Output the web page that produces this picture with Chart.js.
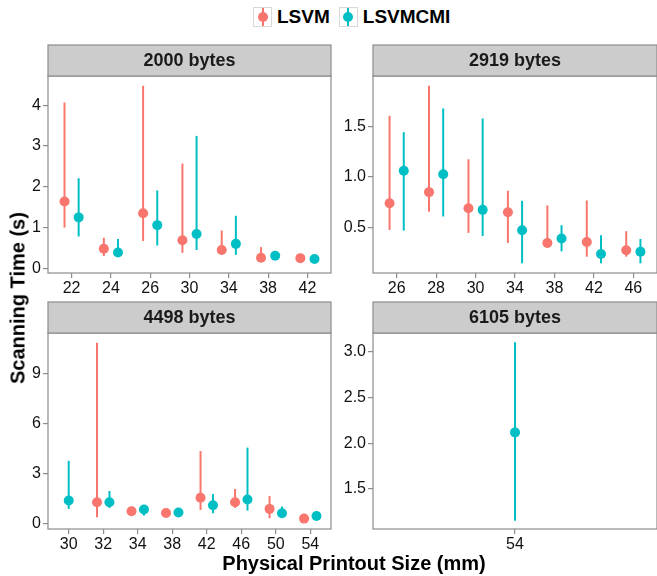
<!DOCTYPE html>
<html>
<head>
<meta charset="utf-8">
<script src="https://cdn.jsdelivr.net/npm/chart.js@4.4.0/dist/chart.umd.min.js"></script>
<style>
  body { margin: 0; width: 657px; height: 576px; position: relative; background: #fff; overflow: hidden;
         font-family: "Liberation Sans", Arial, Helvetica, sans-serif; color: #000; }
  canvas { position: absolute; }
  #legend { position: absolute; left: 253px; top: 7px; height: 20px; display: flex; align-items: center;
            font-weight: bold; font-size: 19px; }
  .key { position: relative; width: 19px; height: 20px; border: 1px solid #d9d9d9; box-sizing: border-box; margin-right: 5px; }
  .key .bar { position: absolute; left: 7.5px; top: 0; width: 2px; height: 100%; }
  .key .dot { position: absolute; left: 3.5px; top: 4px; width: 10px; height: 10px; border-radius: 50%; }
  .lbl { margin-right: 9px; }
  #ytitle { position: absolute; left: 18px; top: 298px; transform: translate(-50%, -50%) rotate(-90deg);
            white-space: nowrap; font-weight: bold; font-size: 20px; }
  #xtitle { position: absolute; left: 354px; top: 563px; transform: translate(-50%, -50%);
            white-space: nowrap; font-weight: bold; font-size: 20px; }
</style>
</head>
<body>
<div id="legend">
  <div class="key"><div class="bar" style="background:#F8766D"></div><div class="dot" style="background:#F8766D"></div></div>
  <span class="lbl">LSVM</span>
  <div class="key"><div class="bar" style="background:#00BFC4"></div><div class="dot" style="background:#00BFC4"></div></div>
  <span class="lbl">LSVMCMI</span>
</div>
<canvas id="p2000" width="336" height="256" style="left:0;top:44px"></canvas>
<canvas id="p2919" width="326" height="256" style="left:336px;top:44px"></canvas>
<canvas id="p4498" width="336" height="256" style="left:0;top:301px"></canvas>
<canvas id="p6105" width="326" height="256" style="left:336px;top:301px"></canvas>
<div id="ytitle">Scanning Time (s)</div>
<div id="xtitle">Physical Printout Size (mm)</div>
<script>
// --- data (seconds) ---
const SIZES_2000 = ['22', '24', '26', '30', '34', '38', '42'];
const LSVM_2000 = [1.64, 0.48, 1.35, 0.69, 0.45, 0.26, 0.25];
const LSVM_2000_LO = [1.00, 0.30, 0.67, 0.38, 0.35, 0.20, 0.21];
const LSVM_2000_HI = [4.07, 0.75, 4.48, 2.57, 0.93, 0.52, 0.30];
const LSVMCMI_2000 = [1.25, 0.39, 1.06, 0.84, 0.60, 0.31, 0.23];
const LSVMCMI_2000_LO = [0.78, 0.29, 0.56, 0.45, 0.33, 0.23, 0.19];
const LSVMCMI_2000_HI = [2.21, 0.72, 1.91, 3.25, 1.29, 0.39, 0.28];

const SIZES_2919 = ['26', '28', '30', '34', '38', '42', '46'];
const LSVM_2919 = [0.74, 0.85, 0.69, 0.65, 0.345, 0.355, 0.272];
const LSVM_2919_LO = [0.475, 0.655, 0.445, 0.345, 0.30, 0.209, 0.209];
const LSVM_2919_HI = [1.608, 1.907, 1.176, 0.864, 0.718, 0.767, 0.462];
const LSVMCMI_2919 = [1.063, 1.027, 0.674, 0.472, 0.389, 0.236, 0.259];
const LSVMCMI_2919_LO = [0.468, 0.608, 0.415, 0.143, 0.262, 0.143, 0.143];
const LSVMCMI_2919_HI = [1.445, 1.681, 1.581, 0.764, 0.522, 0.422, 0.385];

const SIZES_4498 = ['30', '32', '34', '38', '42', '46', '50', '54'];
const LSVM_4498 = [null, 1.30, 0.76, 0.66, 1.57, 1.30, 0.90, 0.32];
const LSVM_4498_LO = [null, 0.40, 0.62, 0.55, 0.84, 0.96, 0.34, 0.25];
const LSVM_4498_HI = [null, 10.82, 0.92, 0.76, 4.35, 2.09, 1.67, 0.40];
const LSVMCMI_4498 = [1.40, 1.30, 0.86, 0.68, 1.12, 1.46, 0.64, 0.48];
const LSVMCMI_4498_LO = [0.90, 0.96, 0.50, 0.58, 0.64, 0.80, 0.40, 0.36];
const LSVMCMI_4498_HI = [3.77, 1.97, 1.10, 0.80, 1.79, 4.56, 1.04, 0.60];

const SIZES_6105 = ['54'];
const LSVM_6105 = [null];
const LSVM_6105_LO = [null];
const LSVM_6105_HI = [null];
const LSVMCMI_6105 = [2.117];
const LSVMCMI_6105_LO = [1.155];
const LSVMCMI_6105_HI = [3.10];

const Y_TICKS_2000 = [0, 1, 2, 3, 4];
const Y_TICKS_2919 = [0.5, 1.0, 1.5];
const Y_TICKS_4498 = [0, 3, 6, 9];
const Y_TICKS_6105 = [1.5, 2.0, 2.5, 3.0];

const RED = '#F8766D';
const TEAL = '#00BFC4';
const FONT = '"Liberation Sans", Arial, Helvetica, sans-serif';
const DODGE = 0.18;

// points dodge left/right, unless the other series is missing at that size
function series(mid, lo, hi, other, shift) {
  const out = [];
  mid.forEach(function (v, i) {
    if (v == null) return;
    out.push({ x: i + (other[i] == null ? 0 : shift), y: v, lo: lo[i], hi: hi[i] });
  });
  return out;
}

const panelDecor = {
  id: 'panelDecor',
  beforeDatasetsDraw(chart) {
    const ctx = chart.ctx, xs = chart.scales.x, ys = chart.scales.y;
    ctx.save();
    ctx.lineWidth = 2;
    chart.data.datasets.forEach(function (ds) {
      ctx.strokeStyle = ds.backgroundColor;
      ds.data.forEach(function (p) {
        const x = xs.getPixelForValue(p.x);
        ctx.beginPath();
        ctx.moveTo(x, ys.getPixelForValue(p.lo));
        ctx.lineTo(x, ys.getPixelForValue(p.hi));
        ctx.stroke();
      });
    });
    ctx.restore();
  },
  afterDraw(chart, args, opts) {
    const ctx = chart.ctx, a = chart.chartArea;
    ctx.save();
    ctx.lineWidth = 1.2;
    ctx.strokeStyle = '#8c8c8c';
    ctx.strokeRect(a.left, a.top, a.right - a.left, a.bottom - a.top);
    // facet strip
    ctx.fillStyle = '#cccccc';
    ctx.fillRect(a.left, a.top - 31, a.right - a.left, 31);
    ctx.strokeRect(a.left, a.top - 31, a.right - a.left, 31);
    ctx.fillStyle = '#1a1a1a';
    ctx.font = 'bold 18px ' + FONT;
    ctx.textAlign = 'center';
    ctx.textBaseline = 'middle';
    ctx.fillText(opts.title, (a.left + a.right) / 2, a.top - 15);
    ctx.restore();
  }
};

function panel(id, title, cats, red, redLo, redHi, teal, tealLo, tealHi, yTicks, yMin, yMax, digits, yWidth, xHeight, padRight) {
  const ctx = document.getElementById(id).getContext('2d');
  return new Chart(ctx, {
    type: 'scatter',
    data: {
      datasets: [
        { label: 'LSVM', data: series(red, redLo, redHi, teal, -DODGE),
          backgroundColor: RED, borderWidth: 0, pointRadius: 5 },
        { label: 'LSVMCMI', data: series(teal, tealLo, tealHi, red, DODGE),
          backgroundColor: TEAL, borderWidth: 0, pointRadius: 5 }
      ]
    },
    plugins: [panelDecor],
    options: {
      responsive: false,
      animation: false,
      layout: { padding: { top: 32, right: padRight, left: 0, bottom: 0 } },
      scales: {
        x: {
          type: 'linear',
          min: -0.6,
          max: cats.length - 0.4,
          afterBuildTicks: function (s) { s.ticks = cats.map(function (c, i) { return { value: i }; }); },
          afterFit: function (s) { s.height = xHeight; },
          grid: { drawOnChartArea: false, drawTicks: true, tickLength: 5, color: '#8c8c8c', lineWidth: 1.2 },
          border: { display: false },
          ticks: {
            autoSkip: false, maxRotation: 0, padding: 1, color: '#111',
            font: { family: FONT, size: 16 },
            callback: function (v) { return cats[v]; }
          }
        },
        y: {
          min: yMin,
          max: yMax,
          afterBuildTicks: function (s) { s.ticks = yTicks.map(function (v) { return { value: v }; }); },
          afterFit: function (s) { s.width = yWidth; },
          grid: { drawOnChartArea: false, drawTicks: true, tickLength: 5, color: '#8c8c8c', lineWidth: 1.2 },
          border: { display: false },
          ticks: {
            padding: 2, color: '#111',
            font: { family: FONT, size: 16 },
            callback: function (v) { return v.toFixed(digits); }
          }
        }
      },
      plugins: {
        legend: { display: false },
        tooltip: { enabled: false },
        panelDecor: { title: title }
      }
    }
  });
}

panel('p2000', '2000 bytes', SIZES_2000, LSVM_2000, LSVM_2000_LO, LSVM_2000_HI,
      LSVMCMI_2000, LSVMCMI_2000_LO, LSVMCMI_2000_HI, Y_TICKS_2000, -0.115, 4.72, 0, 48, 27, 0);
panel('p2919', '2919 bytes', SIZES_2919, LSVM_2919, LSVM_2919_LO, LSVM_2919_HI,
      LSVMCMI_2919, LSVMCMI_2919_LO, LSVMCMI_2919_HI, Y_TICKS_2919, 0.047, 2.003, 1, 37, 27, 1);
panel('p4498', '4498 bytes', SIZES_4498, LSVM_4498, LSVM_4498_LO, LSVM_4498_HI,
      LSVMCMI_4498, LSVMCMI_4498_LO, LSVMCMI_4498_HI, Y_TICKS_4498, -0.3, 11.4, 0, 48, 28, 0);
panel('p6105', '6105 bytes', SIZES_6105, LSVM_6105, LSVM_6105_LO, LSVM_6105_HI,
      LSVMCMI_6105, LSVMCMI_6105_LO, LSVMCMI_6105_HI, Y_TICKS_6105, 1.064, 3.20, 1, 37, 28, 1);
</script>
</body>
</html>
